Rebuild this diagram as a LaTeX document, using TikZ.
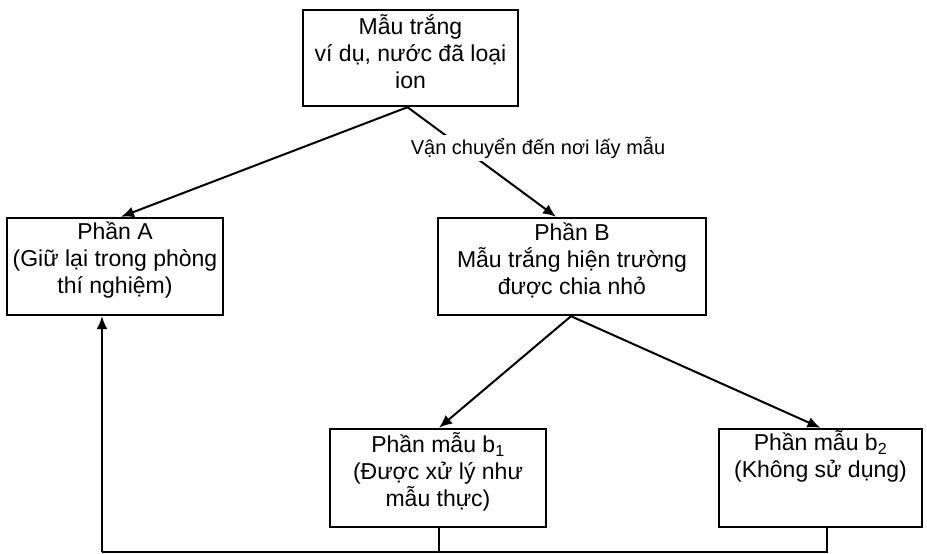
\documentclass[tikz,border=0pt]{standalone}
\usepackage{fontspec}
\setmainfont{Liberation Sans}
\usetikzlibrary{arrows.meta}
\begin{document}
\begin{tikzpicture}[x=1pt,y=-1pt,
  box/.style={draw, line width=2.4pt, inner sep=0pt},
  txt/.style={align=center, font=\fontsize{23}{27}\selectfont, inner sep=0pt},
  conn/.style={line width=2pt, -{Latex[length=13pt,width=11pt]}},
  plainline/.style={line width=2pt},
  lab/.style={font=\fontsize{20}{24}\selectfont, fill=white, inner sep=2pt}]
\useasboundingbox (0,0) rectangle (927,554);
% boxes
\node[box, minimum width=215pt, minimum height=96pt] (top) at (410.5,58) {};
\node[box, minimum width=216pt, minimum height=97pt] (A) at (115,266.5) {};
\node[box, minimum width=268pt, minimum height=97pt] (B) at (572,266.5) {};
\node[box, minimum width=216pt, minimum height=98pt] (b1) at (438,478) {};
\node[box, minimum width=203pt, minimum height=98pt] (b2) at (820.5,478) {};
% texts
\node[txt] (toptxt) at ([yshift=6pt]top.center) {Mẫu trắng\\ví dụ, nước đã loại\\ion};
\node[txt] (Atxt) at ([yshift=6pt]A.center) {Phần A\\(Giữ lại trong phòng\\thí nghiệm)};
\node[txt] (Btxt) at ([yshift=6pt]B.center) {Phần B\\Mẫu trắng hiện trường\\được chia nhỏ};
\node[txt] (b1txt) at ([yshift=6pt]b1.center) {Phần mẫu b\textsubscript{1}\\(Được xử lý như\\mẫu thực)};
\node[txt] (b2txt) at ([yshift=6pt]b2.center) {Phần mẫu b\textsubscript{2}\\(Không sử dụng)\\\strut};
% connectors
\draw[conn] ([xshift=-3pt]top.south) -- ([xshift=6pt]A.north);
\draw[conn] ([xshift=-3pt]top.south) -- ([xshift=-16pt]B.north);
\node[lab] (vc) at (538,148) {Vận chuyển đến nơi lấy mẫu};
\draw[conn] ([xshift=-1pt]B.south) -- ([xshift=1pt]b1.north);
\draw[conn] ([xshift=-1pt]B.south) -- (b2.north);
% feedback line
\coordinate (fb) at (102,552);
\draw[plainline] ([xshift=1pt]b1.south) -- ([xshift=1pt]b1.south |- fb);
\draw[plainline] ([xshift=6.5pt]b2.south) |- (fb);
\draw[conn] (fb) -- (fb |- A.south);
\end{tikzpicture}
\end{document}
